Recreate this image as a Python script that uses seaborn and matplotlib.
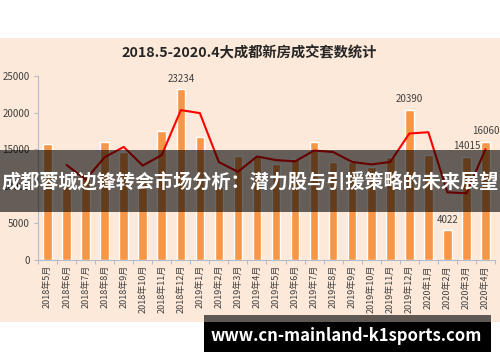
import matplotlib

matplotlib.use("Agg")
import matplotlib.pyplot as plt
import numpy as np
import pandas as pd
import seaborn as sns
from matplotlib.patches import Rectangle

# monthly new-home sales (sets)
months = [
    "2018年5月", "2018年6月", "2018年7月", "2018年8月", "2018年9月", "2018年10月",
    "2018年11月", "2018年12月", "2019年1月", "2019年2月", "2019年3月", "2019年4月",
    "2019年5月", "2019年6月", "2019年7月", "2019年8月", "2019年9月", "2019年10月",
    "2019年11月", "2019年12月", "2020年1月", "2020年2月", "2020年3月", "2020年4月",
]
sales = [
    15770, 10000, 11800, 16080, 14600, 11000, 17480, 23234, 16660, 9880, 14040, 14040,
    13050, 13700, 16000, 13300, 13300, 12620, 13950, 20390, 14300, 4022, 14015, 16060,
]
labelled = ["2018年12月", "2019年12月", "2020年2月", "2020年3月", "2020年4月"]
y_ticks = [0, 5000, 10000, 15000, 20000, 25000]

title = "2018.5-2020.4大成都新房成交套数统计"
banner = "成都蓉城边锋转会市场分析：潜力股与引援策略的未来展望"
site = "www.cn-mainland-k1sports.com"

df = pd.DataFrame({"month": months, "sales": sales})
df["avg2"] = df["sales"].rolling(2).mean()  # 2-period moving average trend line

sns.set_theme(style="white")
plt.rcParams["font.family"] = ["Noto Sans CJK SC", "DejaVu Sans"]

fig = plt.figure(figsize=(5, 3.62), dpi=100)
fig.patch.set_facecolor("white")

# peach chart-area background
fig.patches.append(Rectangle((0, 0.110), 1, 0.785, transform=fig.transFigure,
                             facecolor="#fde9d9", edgecolor="none", zorder=-10))

ax = fig.add_axes([0.076, 0.283, 0.914, 0.507])
ax.set_facecolor("none")

sns.barplot(data=df, x="month", y="sales", color="#f79646", saturation=1,
            width=0.45, ax=ax, zorder=2)
sns.lineplot(x=np.arange(len(df)), y=df["avg2"], color="#ff0000", linewidth=1.5,
             ax=ax, zorder=3)

for i, row in df.iterrows():
    if row["month"] in labelled:
        ax.annotate(f"{int(row['sales'])}", (i, row["sales"]), xytext=(0, 7.5),
                    textcoords="offset points", ha="center", va="center",
                    fontsize=7, color="#404040")

ax.set_xlim(-0.5, len(months) - 0.5)
ax.set_ylim(0, 25000)
ax.set_yticks(y_ticks)
ax.set_yticklabels([str(t) for t in y_ticks])
ax.set_xlabel("")
ax.set_ylabel("")
ax.set_xticks(np.arange(len(months)))
ax.set_xticklabels(months, rotation=90)
ax.set_xticks(np.arange(len(months) + 1) - 0.5, minor=True)

for side in ["top", "right"]:
    ax.spines[side].set_visible(False)
for side in ["left", "bottom"]:
    ax.spines[side].set_color("#b4bccc")
    ax.spines[side].set_linewidth(0.8)

ax.tick_params(axis="y", which="major", length=3, width=0.8, color="#b4bccc",
               labelsize=7, labelcolor="#404040", pad=3, left=True)
ax.tick_params(axis="x", which="major", length=0, labelsize=6.5,
               labelcolor="#404040", pad=4)
ax.tick_params(axis="x", which="minor", length=3, width=0.8, color="#b4bccc",
               bottom=True)

fig.text(0.498, 1 - 53 / 362, title, ha="center", va="center", fontsize=10.3,
         fontweight="bold", color="#262626")

# dark translucent banner across the middle
fig.patches.append(Rectangle((0, 0.414), 1, 0.171, transform=fig.transFigure,
                             facecolor="black", alpha=0.6, edgecolor="none", zorder=5))
fig.text(0.5, 1 - 182 / 362, banner, ha="center", va="center", fontsize=13.8,
         fontweight="bold", color="white", zorder=6)

# site box bottom right
fig.patches.append(Rectangle((0.408, 0.110), 0.574, 0.019, transform=fig.transFigure,
                             facecolor="black", alpha=0.62, edgecolor="none", zorder=5))
fig.patches.append(Rectangle((0.408, 0.0276), 0.574, 0.083, transform=fig.transFigure,
                             facecolor="black", edgecolor="none", zorder=5))
fig.text(0.693, 1 - 336 / 362, site, ha="center", va="center", fontsize=12,
         fontweight="bold", color="white", zorder=6)

fig.savefig("out.png", dpi=100)
plt.close(fig)
